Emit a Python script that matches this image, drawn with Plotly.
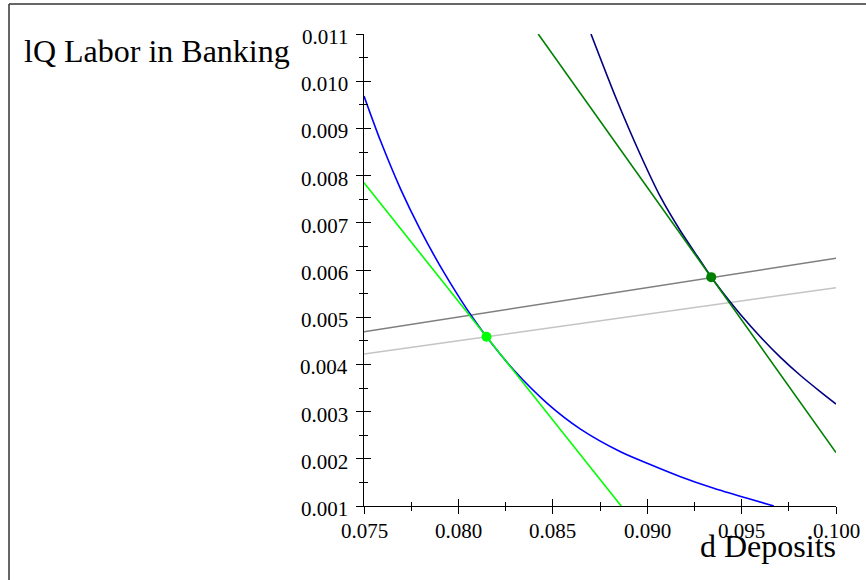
import plotly.graph_objects as go

# ---- data ----
blue_x = [0.075, 0.075874, 0.076933, 0.077993, 0.079052, 0.080111, 0.080816, 0.081488,
          0.082934, 0.084703, 0.086467, 0.088586, 0.090000, 0.091764, 0.093527, 0.095297, 0.096706]
blue_y = [0.009686, 0.008737, 0.007720, 0.006845, 0.006072, 0.005379, 0.004956, 0.004587,
          0.003881, 0.003176, 0.002630, 0.002150, 0.001905, 0.001621, 0.001375, 0.001163, 0.001000]

navy_x = [0.087023, 0.088374, 0.089645, 0.090704, 0.091764, 0.092823, 0.093390, 0.094147,
          0.094942, 0.096001, 0.097060, 0.098120, 0.099179, 0.100000]
navy_y = [0.011000, 0.009617, 0.008436, 0.007547, 0.006826, 0.006191, 0.005852, 0.005449,
          0.005057, 0.004581, 0.004150, 0.003765, 0.003419, 0.003161]

lime_x = [0.075, 0.088623]
lime_y = [0.007850, 0.001000]

dkgreen_x = [0.084227, 0.100]
dkgreen_y = [0.011000, 0.002130]

dkgray_x = [0.075, 0.100]
dkgray_y = [0.004693, 0.006248]

ltgray_x = [0.075, 0.100]
ltgray_y = [0.004220, 0.005625]

lime_pt = ([0.081488], [0.004587])
dkgreen_pt = ([0.093390], [0.005849])

x_ticks = [0.075, 0.080, 0.085, 0.090, 0.095, 0.100]
x_ticktext = ["0.075", "0.080", "0.085", "0.090", "0.095", "0.100"]
x_minor = [0.0775, 0.0825, 0.0875, 0.0925, 0.0975]
y_ticks = [0.001, 0.002, 0.003, 0.004, 0.005, 0.006, 0.007, 0.008, 0.009, 0.010, 0.011]
y_ticktext = ["0.001", "0.002", "0.003", "0.004", "0.005", "0.006", "0.007", "0.008",
              "0.009", "0.010", "0.011"]
y_minor = [0.0015, 0.0025, 0.0035, 0.0045, 0.0055, 0.0065, 0.0075, 0.0085, 0.0095, 0.0105]

x_title = "d Deposits"
y_title = "lQ Labor in Banking"

FONT = "Liberation Serif"
W, H = 866, 580
L, R, T, B = 364, 30, 34, 74
PW, PH = W - L - R, H - T - B


def px2paper_x(px):
    return (px - L) / PW


def px2paper_y(py):
    return (H - B - py) / PH


fig = go.Figure()

def line(x, y, color, width=1.5, shape="linear"):
    fig.add_trace(go.Scatter(x=x, y=y, mode="lines",
                             line=dict(color=color, width=width, shape=shape, smoothing=0.8),
                             hoverinfo="skip"))

line(dkgray_x, dkgray_y, "#7f7f7f")
line(ltgray_x, ltgray_y, "#c4c4c4")
line(blue_x, blue_y, "#0000ff", 1.6, "spline")
line(navy_x, navy_y, "#000080", 1.6, "spline")
line(lime_x, lime_y, "#00ff00", 1.6)
line(dkgreen_x, dkgreen_y, "#008000", 1.6)

fig.add_trace(go.Scatter(x=lime_pt[0], y=lime_pt[1], mode="markers",
                         marker=dict(color="#00ff00", size=10), hoverinfo="skip"))
fig.add_trace(go.Scatter(x=dkgreen_pt[0], y=dkgreen_pt[1], mode="markers",
                         marker=dict(color="#008000", size=10), hoverinfo="skip"))

# invisible trace on overlay axes (inner halves of crossing ticks)
fig.add_trace(go.Scatter(x=[None], y=[None], xaxis="x2", yaxis="y2", mode="lines",
                         hoverinfo="skip", showlegend=False))

common = dict(showgrid=False, zeroline=False, tickcolor="black", tickwidth=1.3,
              showticklabels=False)

tick_font = dict(family=FONT, size=21, color="black")
annotations = []
for v, t in zip(x_ticks, x_ticktext):
    annotations.append(dict(text=t, xref="x", yref="paper", x=v, y=px2paper_y(531),
                            xanchor="center", yanchor="middle", showarrow=False,
                            font=tick_font))
for v, t in zip(y_ticks, y_ticktext):
    annotations.append(dict(text=t, xref="paper", yref="y", x=px2paper_x(350), y=v,
                            yshift=-3, xanchor="right", yanchor="middle", showarrow=False,
                            font=tick_font))
annotations += [
    dict(text=y_title, xref="paper", yref="paper", x=px2paper_x(22), y=px2paper_y(51),
         xanchor="left", yanchor="middle", showarrow=False,
         font=dict(family=FONT, size=32, color="black")),
    dict(text=x_title, xref="paper", yref="paper", x=px2paper_x(838), y=px2paper_y(546),
         xanchor="right", yanchor="middle", showarrow=False,
         font=dict(family=FONT, size=32, color="black")),
]

fig.update_layout(
    width=W, height=H,
    margin=dict(l=L, r=R, t=T, b=B, pad=0),
    paper_bgcolor="white", plot_bgcolor="white",
    font=dict(family=FONT, size=21, color="black"),
    showlegend=False,
    xaxis=dict(range=[0.075, 0.100], tickmode="array", tickvals=x_ticks,
               ticks="outside", ticklen=7, showline=True, linecolor="black", linewidth=1.3,
               minor=dict(tickmode="array", tickvals=x_minor, ticks="outside", ticklen=4,
                          tickcolor="black", tickwidth=1.3),
               **common),
    yaxis=dict(range=[0.001, 0.011], tickmode="array", tickvals=y_ticks,
               ticks="outside", ticklen=7, showline=True, linecolor="black", linewidth=1.3,
               minor=dict(tickmode="array", tickvals=y_minor, ticks="outside", ticklen=4,
                          tickcolor="black", tickwidth=1.3),
               **common),
    xaxis2=dict(range=[0.075, 0.100], overlaying="x", anchor="y", side="bottom",
                tickmode="array", tickvals=x_ticks, ticks="inside", ticklen=7,
                showline=False,
                minor=dict(tickmode="array", tickvals=x_minor, ticks="inside", ticklen=4,
                           tickcolor="black", tickwidth=1.3),
                **common),
    yaxis2=dict(range=[0.001, 0.011], overlaying="y", anchor="x", side="left",
                tickmode="array", tickvals=y_ticks, ticks="inside", ticklen=7,
                showline=False,
                minor=dict(tickmode="array", tickvals=y_minor, ticks="inside", ticklen=4,
                           tickcolor="black", tickwidth=1.3),
                **common),
    annotations=annotations,
    shapes=[
        dict(type="line", xref="paper", yref="paper", x0=px2paper_x(9), x1=px2paper_x(9),
             y0=px2paper_y(4), y1=px2paper_y(585), line=dict(color="#333333", width=1.5)),
        dict(type="line", xref="paper", yref="paper", x0=px2paper_x(9), x1=px2paper_x(870),
             y0=px2paper_y(4), y1=px2paper_y(4), line=dict(color="#333333", width=1.5)),
    ],
)

fig.write_html("out.html")
